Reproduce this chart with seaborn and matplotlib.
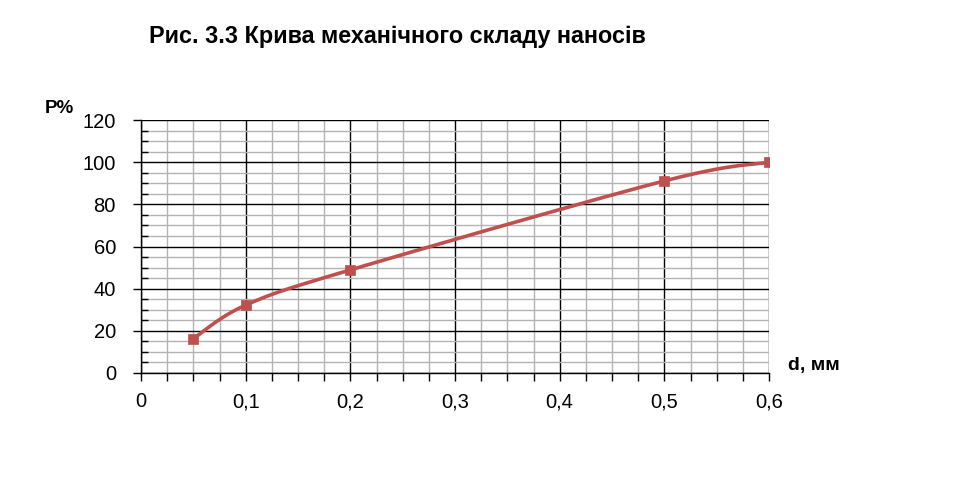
import numpy as np
import pandas as pd
import matplotlib
matplotlib.use("Agg")
import matplotlib.pyplot as plt
import seaborn as sns
from matplotlib.ticker import MultipleLocator, FixedLocator

# ---- data ----
d_mm = [0.05, 0.1, 0.2, 0.5, 0.6]
p_pct = [16.3, 32.2, 48.9, 91.1, 100.0]
x_ticks = [0, 0.1, 0.2, 0.3, 0.4, 0.5, 0.6]
x_tick_labels = ["0", "0,1", "0,2", "0,3", "0,4", "0,5", "0,6"]
y_ticks = [0, 20, 40, 60, 80, 100, 120]
title = "Рис. 3.3 Крива механічного складу наносів"
y_label = "P%"
x_label = "d, мм"

sns.set_theme(style="white")
plt.rcParams['font.family'] = ['Liberation Sans', 'DejaVu Sans']

RED = "#C0504D"


def smooth_curve(xs, ys, n=40):
    """Excel-like smoothed line: cubic Bezier with Catmull-Rom control points."""
    xs = np.asarray(xs, float)
    ys = np.asarray(ys, float)
    P = np.column_stack([xs, ys])
    out = []
    for i in range(len(P) - 1):
        p0 = P[i - 1] if i > 0 else P[i]
        p1 = P[i]
        p2 = P[i + 1]
        p3 = P[i + 2] if i + 2 < len(P) else P[i + 1]
        c1 = p1 + (p2 - p0) / 6.0
        c2 = p2 - (p3 - p1) / 6.0
        t = np.linspace(0, 1, n)[:, None]
        seg = ((1 - t) ** 3) * p1 + 3 * ((1 - t) ** 2) * t * c1 + 3 * (1 - t) * t ** 2 * c2 + t ** 3 * p2
        out.append(seg if i == 0 else seg[1:])
    arr = np.vstack(out)
    return arr[:, 0], arr[:, 1]


fig = plt.figure(figsize=(9.66, 4.99), dpi=100)
ax = fig.add_axes([141 / 966, 1 - 373 / 499, (769 - 141) / 966, (373 - 120) / 499])

sx, sy = smooth_curve(d_mm, p_pct)
curve = pd.DataFrame({"d": sx, "p": sy})
pts = pd.DataFrame({"d": d_mm, "p": p_pct})

sns.lineplot(data=curve, x="d", y="p", sort=False, color=RED, lw=2.6, ax=ax, zorder=4)
sns.scatterplot(data=pts, x="d", y="p", marker="s", s=60, color=RED, edgecolor=RED,
                linewidth=0.5, ax=ax, zorder=5)

ax.set_xlim(0, 0.6)
ax.set_ylim(0, 120)
ax.xaxis.set_major_locator(FixedLocator(x_ticks))
ax.set_xticklabels(x_tick_labels)
ax.yaxis.set_major_locator(FixedLocator(y_ticks))
ax.xaxis.set_minor_locator(MultipleLocator(0.025))
ax.yaxis.set_minor_locator(MultipleLocator(5))

ax.grid(which="minor", color="#B3B3B3", lw=1.0)
ax.grid(which="major", color="black", lw=1.0)
ax.set_axisbelow(True)

for s in ["top", "right"]:
    ax.spines[s].set_visible(False)
for s in ["left", "bottom"]:
    ax.spines[s].set_color("black")
    ax.spines[s].set_linewidth(1.0)

ax.tick_params(axis="x", which="both", direction="out", length=6, width=1, color="black",
               labelsize=14.5, pad=8, bottom=True)
ax.tick_params(axis="y", which="major", direction="out", length=6, width=1, color="black",
               labelsize=14.5, pad=12, left=True)
ax.tick_params(axis="y", which="minor", direction="in", length=5, width=1, color="black", left=True)
for lab in ax.get_xticklabels() + ax.get_yticklabels():
    lab.set_color("black")

ax.set_xlabel("")
ax.set_ylabel("")

fig.text(149 / 966, 1 - 43.5 / 499, title, fontsize=16.8, fontweight="bold", ha="left", va="baseline",
         color="black")
fig.text(45 / 966, 1 - 113 / 499, y_label, fontsize=13.5, fontweight="bold", ha="left", va="baseline",
         color="black")
fig.text(788 / 966, 1 - 370 / 499, x_label, fontsize=14, fontweight="bold", ha="left", va="baseline",
         color="black")

fig.savefig("out.png", dpi=100)
